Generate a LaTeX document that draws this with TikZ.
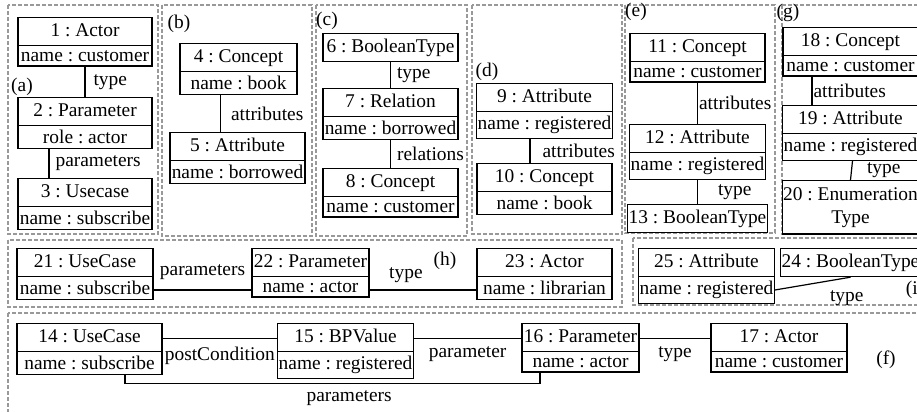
\documentclass[tikz,border=0pt]{standalone}
\usepackage{fontspec}
\setmainfont{Liberation Serif}
\usetikzlibrary{shapes.multipart,positioning}
\definecolor{framegray}{gray}{0.6}
\tikzset{
  obj/.style={rectangle split, rectangle split parts=2, draw, line width=0.6pt,
    font=\fontsize{9.7}{11.6}\selectfont\frenchspacing, align=center, minimum width=#1,
    inner xsep=0.5pt, inner ysep=2pt, text height=7pt, text depth=2.4pt,
    anchor=north},
  obj/.default=67.5pt,
  single/.style={obj=#1, rectangle split parts=1},
  single/.default=67.5pt,
  lbl/.style={font=\fontsize{9.7}{11.6}\selectfont\frenchspacing, inner sep=1.5pt},
  panel/.style={draw=framegray, line width=0.9pt, dash pattern=on 2pt off 1pt},
}
\begin{document}
\begin{tikzpicture}[x=0.5pt, y=-0.5pt]
    \useasboundingbox (0,0) rectangle (917,412);
    \clip (0,0) rectangle (917,412);

    % panels
    \draw[panel] (8,5) rectangle (158,234);
    \draw[panel] (162,5) rectangle (312,236);
    \draw[panel] (316,5) rectangle (467,236);
    \draw[panel] (472,5) rectangle (622,234);
    \draw[panel] (625,5) rectangle (775,233);
    \draw[panel] (782,5) rectangle (930,234);
    \draw[panel] (8,240) rectangle (622,307);
    \draw[panel] (633,238) rectangle (930,305);
    \draw[panel] (8,313) rectangle (930,430);

    \node[lbl] (la) at (22,87) {(a)};
    \node[lbl] (lb) at (179,24) {(b)};
    \node[lbl] (lc) at (327,21) {(c)};
    \node[lbl] (ld) at (487,72) {(d)};
    \node[lbl] (le) at (636,12) {(e)};
    \node[lbl] (lg) at (788,13) {(g)};
    \node[lbl] (lh) at (445,261) {(h)};
    \node[lbl] (li) at (915,290) {(i)};
    \node[lbl] (lf) at (886,360) {(f)};

    % objects
    \node[obj=67pt] (n1) at (85,17) {1 : Actor \nodepart{two} name : customer};
    \node[obj=67pt] (n2) at (85,97) {2 : Parameter \nodepart{two} role : actor};
    \node[obj=67pt] (n3) at (85,178) {3 : Usecase \nodepart{two} name : subscribe};

    \node[obj=58.5pt] (n4) at (238.5,43) {4 : Concept \nodepart{two} name : book};
    \node[obj] (n5) at (237.5,132) {5 : Attribute \nodepart{two} name : borrowed};

    \node[single] (n6) at (390.5,33) {6 : BooleanType};
    \node[obj] (n7) at (390.5,88) {7 : Relation \nodepart{two} name : borrowed};
    \node[obj] (n8) at (390.5,168) {8 : Concept \nodepart{two} name : customer};

    \node[obj] (n9) at (544.5,83) {9 : Attribute \nodepart{two} name : registered};
    \node[obj] (n10) at (544.5,163) {10 : Concept \nodepart{two} name : book};

    \node[obj] (n11) at (697.5,33) {11 : Concept \nodepart{two} name : customer};
    \node[obj] (n12) at (697.5,124) {12 : Attribute \nodepart{two} name : registered};
    \node[single] (n13) at (697.5,204) {13 : BooleanType};

    \node[obj] (n18) at (850.5,27) {18 : Concept \nodepart{two} name : customer};
    \node[obj] (n19) at (850.5,105) {19 : Attribute \nodepart{two} name : registered};
    \node[single, text height=, text depth=, inner ysep=3pt] (n20) at (850.5,180) {20 : Enumeration\\Type};

    \node[obj=68pt] (n21) at (85,248) {21 : UseCase \nodepart{two} name : subscribe};
    \node[obj=58.5pt] (n22) at (310.5,248) {22 : Parameter \nodepart{two} name : actor};
    \node[obj] (n23) at (544.5,248) {23 : Actor \nodepart{two} name : librarian};

    \node[obj] (n25) at (706.5,248) {25 : Attribute \nodepart{two} name : registered};
    \node[single] (n24) at (850.5,248) {24 : BooleanType};

    \node[obj=72.5pt] (n14) at (89.5,323) {14 : UseCase \nodepart{two} name : subscribe};
    \node[obj] (n15) at (345.5,323) {15 : BPValue \nodepart{two} name : registered};
    \node[obj=58.5pt] (n16) at (580.5,323) {16 : Parameter \nodepart{two} name : actor};
    \node[obj=68pt] (n17) at (779,323) {17 : Actor \nodepart{two} name : customer};

    % links
    \begin{scope}[-, line width=0.6pt]
        \path (n1.south) edge node[lbl, right=2.5pt] {type} (n2.north);
        \path ([xshift=-18pt]n2.south) edge node[lbl, right=1.5pt] {parameters} ([xshift=-18pt]n3.north);
        \path ([xshift=-9pt]n4.south) edge node[lbl, right=3.5pt] {attributes} ([xshift=-9pt]n4.south |- n5.north);
        \path (n6.south) edge node[lbl, right=1.5pt] {type} (n7.north);
        \path (n7.south) edge node[lbl, right=1.5pt] {relations} (n8.north);
        \path ([xshift=-7.25pt]n9.south) edge node[lbl, right=4.5pt] {attributes} ([xshift=-7.25pt]n10.north);
        \path (n11.south) edge node[lbl, right=-1pt] {attributes} (n12.north);
        \path (n12.south) edge node[lbl, right=8.5pt] {type} (n13.north);
        \path ([xshift=-19.25pt]n18.south) edge node[lbl, right=-1pt] {attributes} ([xshift=-19.25pt]n19.north);
        \path ([xshift=1pt]n19.south) edge node[lbl, right=6pt] {type} (n20.north);

        \path ([yshift=-6.7pt]n21.text split east) edge node[lbl, above=3.5pt] {parameters} ([yshift=-6.7pt]n22.text split west);
        \path ([yshift=-6.7pt]n22.text split east) edge node[lbl, above=2pt, pos=.34] {type} ([yshift=-6.7pt]n23.text split west);
        \path ([yshift=-6.7pt]n25.text split east) edge node[lbl, below=4.5pt, pos=.95] {type} (n24.south);

        \path ([yshift=6.7pt]n14.text split east) edge node[lbl, below=2.5pt] {postCondition} ([yshift=6.7pt]n15.text split west);
        \path ([yshift=6.7pt]n15.text split east) edge node[lbl, below=2.5pt] {parameter} ([yshift=6.7pt]n16.text split west);
        \path ([yshift=6.7pt]n16.text split east) edge node[lbl, below=2.5pt] {type} ([yshift=6.7pt]n17.text split west);
        \draw ([xshift=17.75pt]n14.south) -- ++(0,8) -| node[lbl, below=2pt, pos=.27] {parameters} ([xshift=-20.25pt]n16.south);
    \end{scope}
\end{tikzpicture}
\end{document}
